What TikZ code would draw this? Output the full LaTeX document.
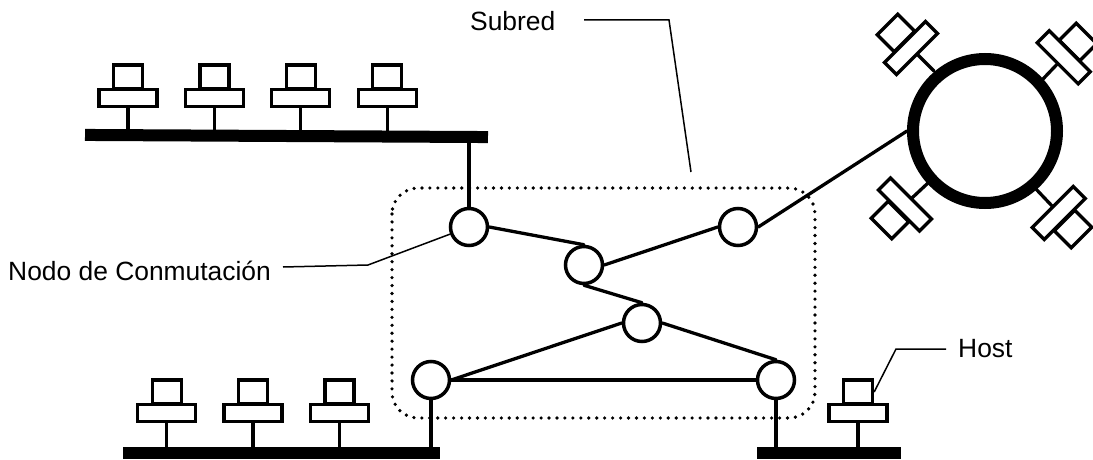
\documentclass[tikz,border=0pt]{standalone}
\usepackage{fontspec}
\setmainfont{Liberation Sans}
\tikzset{
  hostbase/.style={draw,line width=3.3pt,fill=white,rectangle,minimum width=58pt,minimum height=17pt,inner sep=0},
  hostscreen/.style={draw,line width=3.3pt,fill=white,rectangle,minimum width=29pt,minimum height=24pt,inner sep=0},
  switch/.style={draw,line width=3.5pt,fill=white,circle,minimum size=37pt,inner sep=0},
  bus/.style={fill=black,rectangle,minimum height=12pt,inner sep=0},
  link/.style={line width=3.3pt,line cap=round},
  leader/.style={line width=1.5pt},
  label/.style={font=\fontsize{26.4pt}{30pt}\selectfont,inner sep=0}
}

\begin{document}
\begin{tikzpicture}[x=1pt,y=-1pt]
      \useasboundingbox (0,0) rectangle (1093,460);

      %subred
      \draw[line width=3.6pt,line cap=round,dash pattern=on 0pt off 7.95pt,rounded corners=26pt] (392,188) rectangle (815,418);

      %buses
      \node[bus,minimum width=403pt,rotate=-0.3] (bus1) at (286.5,136) {};
      \node[bus,minimum width=317pt] (bus2) at (281.5,453) {};
      \node[bus,minimum width=144pt] (bus3) at (829,453) {};

      %hosts on the upper bus
      \foreach \i/\x in {1/128,2/214.4,3/300.8,4/387.2}{
        \node[hostscreen] (a\i) at (\x,77) {};
        \node[hostbase] (b\i) at (\x,98) {};
        \draw[link] (b\i.south) -- (b\i.south |- bus1.center);
      }

      %hosts on the lower bus
      \foreach \i/\x in {5/166.7,6/253,7/339.5,8/858}{
        \node[hostscreen] (a\i) at (\x,392) {};
        \node[hostbase] (b\i) at (\x,413) {};
      }
      \foreach \i in {5,6,7}{
        \draw[link] (b\i.south) -- (b\i.south |- bus2.center);
      }
      \draw[link] (b8.south) -- (b8.south |- bus3.center);

      %ring
      \node[draw,line width=12pt,circle,minimum size=144pt,inner sep=0] (ring) at (985,131) {};

      %hosts on the ring
      \coordinate (r1) at (934,71);
      \coordinate (r2) at (1043,79);
      \coordinate (r3) at (928,183);
      \coordinate (r4) at (1035,188);
      \draw[link] (r1) -- (911,48);
      \draw[link] (r2) -- (1063.7,57.3);
      \draw[link] (r3) -- (905,204.5);
      \draw[link] (r4) -- (1058.7,213);
      \node[hostscreen,rotate=45] (a9) at (896,33) {};
      \node[hostbase,rotate=45] (b9) at (911,48) {};
      \node[hostscreen,rotate=-45] (a10) at (1078,42) {};
      \node[hostbase,rotate=-45] (b10) at (1063.7,57.3) {};
      \node[hostscreen,rotate=-45] (a11) at (890,220) {};
      \node[hostbase,rotate=-45] (b11) at (905,204.5) {};
      \node[hostscreen,rotate=45] (a12) at (1073,229) {};
      \node[hostbase,rotate=45] (b12) at (1058.7,213) {};

      %switching nodes
      \node[switch] (n1) at (469,227) {};
      \node[switch] (n2) at (584,265) {};
      \node[switch] (n3) at (738,227) {};
      \node[switch] (n4) at (642,323) {};
      \node[switch] (n5) at (431,380) {};
      \node[switch] (n6) at (776,380) {};

      \draw[link] (n1.east) -- (n2.north);
      \draw[link] (n2.east) -- (n3.west);
      \draw[link] (n2.south) -- (n4.north);
      \draw[link] (n4.west) -- (n5.east);
      \draw[link] (n4.east) -- (n6.north);
      \draw[link] (n5.east) -- (n6.west);
      \draw[link] (n3.east) -- (ring.west);
      \draw[link] (n1.north) -- (n1.north |- bus1.center);
      \draw[link] (n5.south) -- (n5.south |- bus2.center);
      \draw[link] (n6.south) -- (n6.south |- bus3.center);

      %labels
      \node[label,anchor=base west] (subred) at (470,31) {Subred};
      \node[label,anchor=base west] (conm) at (8,280) {Nodo de Conmutación};
      \node[label,anchor=base west] (host) at (958,357) {Host};

      \coordinate (l1) at (584,20);
      \coordinate (l2) at (669,20);
      \coordinate (l3) at (691,172);
      \coordinate (l4) at (283,267);
      \coordinate (l5) at (368,265);
      \coordinate (l6) at (896,349);
      \coordinate (l7) at (946,349);
      \draw[leader] (l1) -- (l2) -- (l3);
      \draw[leader] (l4) -- (l5) -- (n1);
      \draw[leader] (l7) -- (l6) -- (a8.east);

    \end{tikzpicture}
\end{document}
